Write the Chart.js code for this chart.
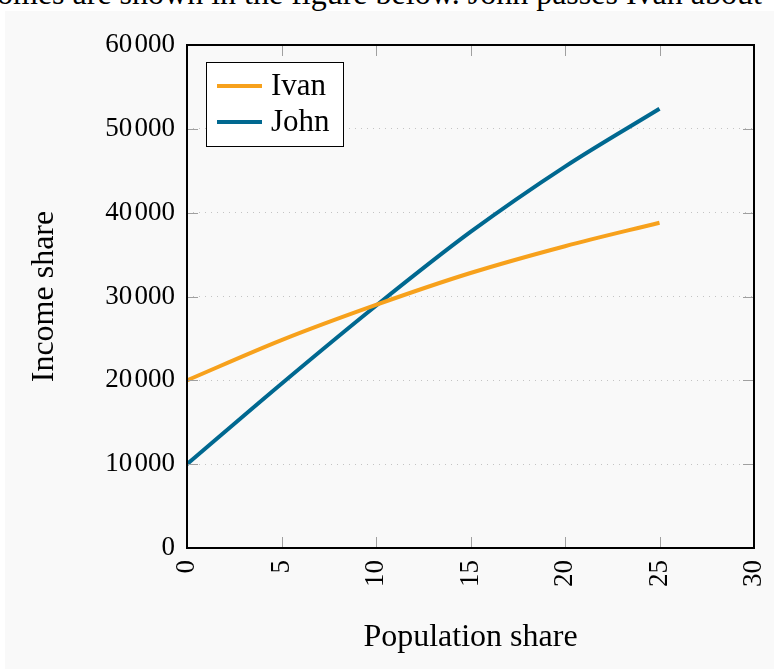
<!DOCTYPE html>
<html>
<head>
<meta charset="utf-8">
<script src="https://cdn.jsdelivr.net/npm/chart.js@4/dist/chart.umd.min.js"></script>
<style>
  html, body { margin: 0; padding: 0; background: #ffffff; overflow: hidden; }
  #lead {
    position: absolute; left: -3px; top: -23px; white-space: nowrap;
    font: 32px/32px 'Liberation Serif', 'Times New Roman', serif; color: #000;
  }
  #wrap { position: absolute; left: 5px; top: 11px; width: 769px; height: 658px; background: #f9f9f9; }
</style>
</head>
<body>
<div id="lead">omes are shown in the figure below. John passes Ivan about</div>
<div id="wrap"><canvas id="incomeChart" width="769" height="658"></canvas></div>
<script>
// values
const years = [0, 5, 10, 15, 20, 25];
const ivanIncome = [20000, 24800, 29000, 32800, 36000, 38800];
const johnIncome = [10000, 19600, 28900, 37700, 45500, 52400];
const xTicks = [0, 5, 10, 15, 20, 25, 30];
const yTicks = [0, 10000, 20000, 30000, 40000, 50000, 60000];

const serif = "'Liberation Serif', 'Times New Roman', serif";
const ivanColor = '#f7a11c';
const johnColor = '#006890';

function toPoints(values) {
    return years.map((x, i) => ({ x: x, y: values[i] }));
}

// frame, inner tick marks and the boxed legend
const framePlugin = {
    id: 'frame',
    afterDatasetsDraw(chart) {
        const ctx = chart.ctx;
        const a = chart.chartArea;
        const xs = chart.scales.x;
        const ys = chart.scales.y;
        const len = 11;

        ctx.save();
        ctx.strokeStyle = '#a0a0a0';
        ctx.lineWidth = 1;
        ctx.beginPath();
        yTicks.slice(1, -1).forEach(v => {
            const p = Math.round(ys.getPixelForValue(v)) + 0.5;
            ctx.moveTo(a.left, p); ctx.lineTo(a.left + len, p);
            ctx.moveTo(a.right, p); ctx.lineTo(a.right - len, p);
        });
        xTicks.slice(1, -1).forEach(v => {
            const p = Math.round(xs.getPixelForValue(v)) + 0.5;
            ctx.moveTo(p, a.bottom); ctx.lineTo(p, a.bottom - len);
            ctx.moveTo(p, a.top); ctx.lineTo(p, a.top + len);
        });
        ctx.stroke();

        ctx.strokeStyle = '#000000';
        ctx.lineWidth = 2;
        ctx.strokeRect(a.left, a.top, a.right - a.left, a.bottom - a.top);

        // legend
        const bx = 201, by = 51, bw = 137, bh = 84;
        ctx.fillStyle = '#ffffff';
        ctx.fillRect(bx, by, bw, bh);
        ctx.lineWidth = 1;
        ctx.strokeRect(bx + 0.5, by + 0.5, bw, bh);
        ctx.font = '31px ' + serif;
        ctx.textBaseline = 'middle';
        chart.data.datasets.forEach((ds, i) => {
            const cy = by + 24 + i * 36;
            ctx.strokeStyle = ds.borderColor;
            ctx.lineWidth = 4;
            ctx.beginPath();
            ctx.moveTo(bx + 11, cy); ctx.lineTo(bx + 56, cy);
            ctx.stroke();
            ctx.fillStyle = '#000000';
            ctx.fillText(ds.label, bx + 65, cy + 1);
        });
        ctx.restore();
    }
};

const chartCtx = document.getElementById('incomeChart').getContext('2d');
new Chart(chartCtx, {
    type: 'line',
    data: {
        datasets: [{
            label: 'Ivan',
            data: toPoints(ivanIncome),
            borderColor: ivanColor,
            borderWidth: 4,
            pointRadius: 0,
            cubicInterpolationMode: 'monotone',
            fill: false
        }, {
            label: 'John',
            data: toPoints(johnIncome),
            borderColor: johnColor,
            borderWidth: 4,
            pointRadius: 0,
            cubicInterpolationMode: 'monotone',
            fill: false
        }]
    },
    options: {
        responsive: false,
        animation: false,
        layout: {
            padding: { top: 34, right: 20, left: 0, bottom: 0 }
        },
        plugins: {
            legend: { display: false },
            tooltip: { enabled: false }
        },
        scales: {
            x: {
                type: 'linear',
                min: 0,
                max: 30,
                afterBuildTicks: s => { s.ticks = xTicks.map(v => ({ value: v })); },
                afterFit: s => { s.height = 121; s.paddingLeft = 0; s.paddingRight = 0; },
                grid: { display: false, drawTicks: false },
                border: { display: false },
                ticks: {
                    color: '#000000',
                    font: { family: serif, size: 27 },
                    minRotation: 90,
                    maxRotation: 90,
                    padding: 12
                },
                title: {
                    display: true,
                    text: 'Population share',
                    color: '#000000',
                    font: { family: serif, size: 32 },
                    padding: { top: 0, bottom: 12 }
                }
            },
            y: {
                min: 0,
                max: 60000,
                afterBuildTicks: s => { s.ticks = yTicks.map(v => ({ value: v })); },
                afterFit: s => { s.width = 182; s.paddingTop = 0; s.paddingBottom = 0; },
                grid: {
                    drawTicks: false,
                    lineWidth: 1,
                    color: c => (c.tick && c.tick.value > 0 && c.tick.value < 60000) ? '#c4c4c4' : 'rgba(0,0,0,0)'
                },
                border: { display: false, dash: [1, 5] },
                ticks: {
                    color: '#000000',
                    font: { family: serif, size: 27 },
                    padding: 12,
                    callback: v => v >= 1000 ? Math.floor(v / 1000) + '\u200A' + '000' : String(v)
                },
                title: {
                    display: true,
                    text: 'Income share',
                    color: '#000000',
                    font: { family: serif, size: 32 },
                    padding: { top: 20, bottom: 0 }
                }
            }
        }
    },
    plugins: [framePlugin]
});
</script>
</body>
</html>
